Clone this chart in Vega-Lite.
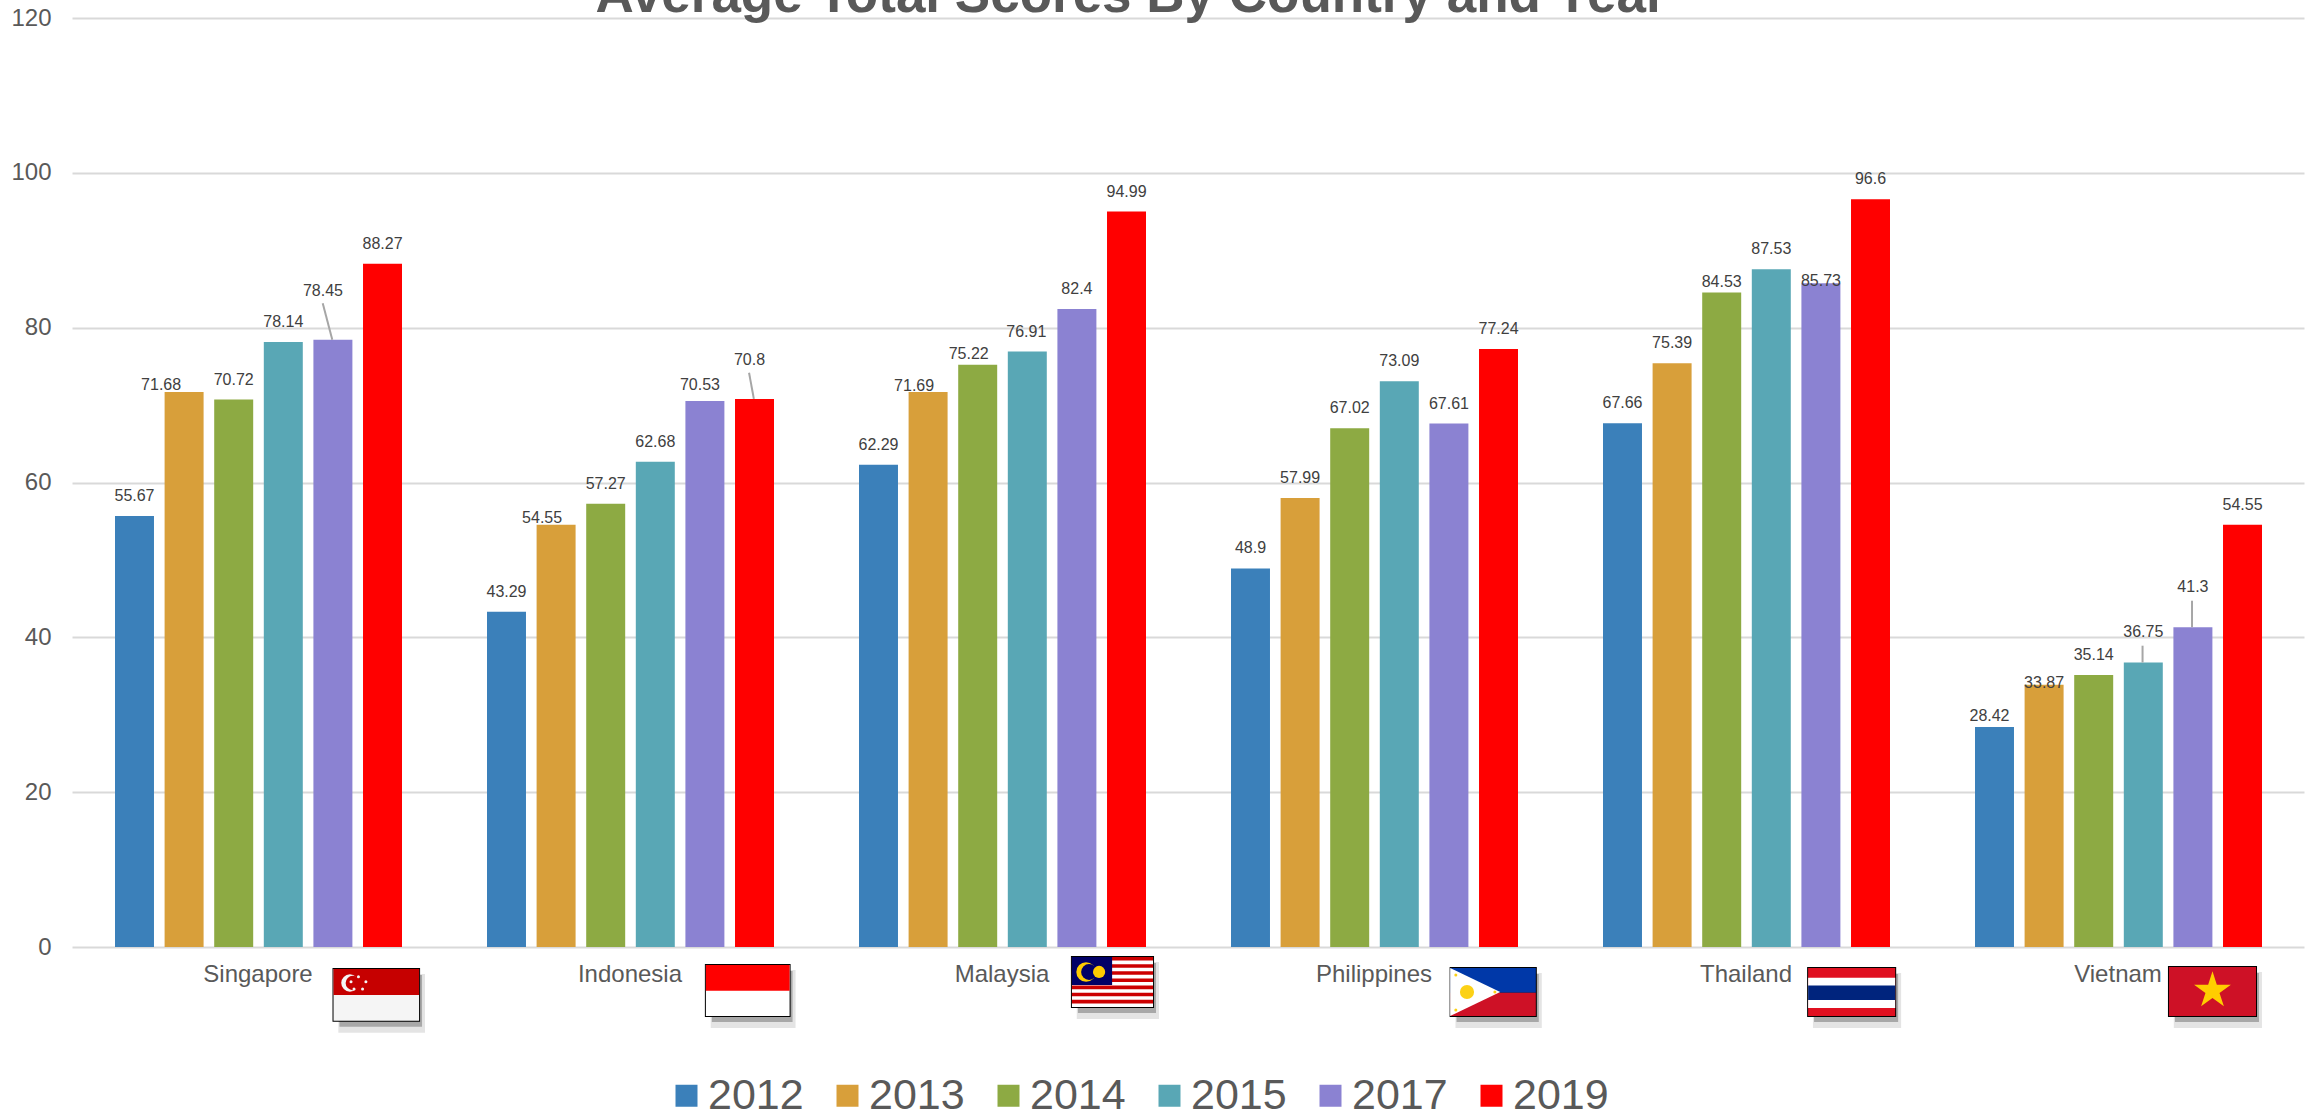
{"$schema":"https://vega.github.io/schema/vega-lite/v6.json","width":2232,"height":929,"autosize":"none","padding":{"left":72,"top":18,"right":9,"bottom":170},"background":"white",
"datasets":{
"titleText":[{"label":"Average Total Scores By Country and Year","x":2.847,"y":120.78}],
"scores":[
{"country":"Singapore","year":"2012","score":55.67},{"country":"Singapore","year":"2013","score":71.68},{"country":"Singapore","year":"2014","score":70.72},{"country":"Singapore","year":"2015","score":78.14},{"country":"Singapore","year":"2017","score":78.45},{"country":"Singapore","year":"2019","score":88.27},
{"country":"Indonesia","year":"2012","score":43.29},{"country":"Indonesia","year":"2013","score":54.55},{"country":"Indonesia","year":"2014","score":57.27},{"country":"Indonesia","year":"2015","score":62.68},{"country":"Indonesia","year":"2017","score":70.53},{"country":"Indonesia","year":"2019","score":70.8},
{"country":"Malaysia","year":"2012","score":62.29},{"country":"Malaysia","year":"2013","score":71.69},{"country":"Malaysia","year":"2014","score":75.22},{"country":"Malaysia","year":"2015","score":76.91},{"country":"Malaysia","year":"2017","score":82.4},{"country":"Malaysia","year":"2019","score":94.99},
{"country":"Philippines","year":"2012","score":48.9},{"country":"Philippines","year":"2013","score":57.99},{"country":"Philippines","year":"2014","score":67.02},{"country":"Philippines","year":"2015","score":73.09},{"country":"Philippines","year":"2017","score":67.61},{"country":"Philippines","year":"2019","score":77.24},
{"country":"Thailand","year":"2012","score":67.66},{"country":"Thailand","year":"2013","score":75.39},{"country":"Thailand","year":"2014","score":84.53},{"country":"Thailand","year":"2015","score":87.53},{"country":"Thailand","year":"2017","score":85.73},{"country":"Thailand","year":"2019","score":96.6},
{"country":"Vietnam","year":"2012","score":28.42},{"country":"Vietnam","year":"2013","score":33.87},{"country":"Vietnam","year":"2014","score":35.14},{"country":"Vietnam","year":"2015","score":36.75},{"country":"Vietnam","year":"2017","score":41.3},{"country":"Vietnam","year":"2019","score":54.55}],
"leaders":[{"x":0.674,"x2":0.6997,"y":83.14,"y2":78.45},{"x":1.82,"x2":1.833,"y":74.18,"y2":70.8},{"x":5.566,"x2":5.566,"y":38.92,"y2":36.75},{"x":5.699,"x2":5.699,"y":44.73,"y2":41.3}],
"flagRects":[
{"part":"shadowA","x":0.716,"x2":0.949,"y":-3.488,"y2":-11.07},{"part":"shadowB","x":0.719,"x2":0.941,"y":-3.617,"y2":-10.295},
{"part":"shadowA","x":1.717,"x2":1.945,"y":-2.971,"y2":-10.462},{"part":"shadowB","x":1.72,"x2":1.937,"y":-3.1,"y2":-9.687},
{"part":"shadowA","x":2.701,"x2":2.922,"y":-1.938,"y2":-9.3},{"part":"shadowB","x":2.704,"x2":2.914,"y":-2.067,"y2":-8.525},
{"part":"shadowA","x":3.719,"x2":3.951,"y":-3.358,"y2":-10.462},{"part":"shadowB","x":3.722,"x2":3.943,"y":-3.487,"y2":-9.687},
{"part":"shadowA","x":4.68,"x2":4.917,"y":-3.358,"y2":-10.462},{"part":"shadowB","x":4.683,"x2":4.909,"y":-3.487,"y2":-9.687},
{"part":"shadowA","x":5.65,"x2":5.887,"y":-3.229,"y2":-10.462},{"part":"shadowB","x":5.653,"x2":5.879,"y":-3.358,"y2":-9.687},
{"part":"frame","x":0.7003,"x2":0.9357,"y":-2.712,"y2":-9.65},{"part":"frame","x":1.7013,"x2":1.9317,"y":-2.195,"y2":-9.042},{"part":"frame","x":2.6853,"x2":2.9087,"y":-1.162,"y2":-7.88},{"part":"frame","x":3.7033,"x2":3.9377,"y":-2.582,"y2":-9.042},{"part":"frame","x":4.6643,"x2":4.9037,"y":-2.582,"y2":-9.042},{"part":"frame","x":5.6343,"x2":5.8737,"y":-2.453,"y2":-9.042},
{"part":"offWhite","x":0.703,"x2":0.933,"y":-2.842,"y2":-9.52},{"part":"sgRed","x":0.703,"x2":0.933,"y":-2.842,"y2":-6.2},
{"part":"white","x":1.704,"x2":1.929,"y":-2.325,"y2":-8.912},{"part":"idRed","x":1.704,"x2":1.929,"y":-2.325,"y2":-5.645},
{"part":"white","x":2.688,"x2":2.906,"y":-1.292,"y2":-7.75},
{"part":"myRed","x":2.688,"x2":2.906,"y":-1.292,"y2":-1.753},{"part":"myRed","x":2.688,"x2":2.906,"y":-2.215,"y2":-2.676},{"part":"myRed","x":2.688,"x2":2.906,"y":-3.137,"y2":-3.599},{"part":"myRed","x":2.688,"x2":2.906,"y":-4.06,"y2":-4.521},{"part":"myRed","x":2.688,"x2":2.906,"y":-4.983,"y2":-5.444},{"part":"myRed","x":2.688,"x2":2.906,"y":-5.905,"y2":-6.367},{"part":"myRed","x":2.688,"x2":2.906,"y":-6.828,"y2":-7.289},
{"part":"myNavy","x":2.688,"x2":2.796,"y":-1.292,"y2":-4.908},
{"part":"phBlue","x":3.706,"x2":3.935,"y":-2.712,"y2":-5.903},{"part":"phRed","x":3.706,"x2":3.935,"y":-5.903,"y2":-8.912},
{"part":"thRed","x":4.667,"x2":4.901,"y":-2.712,"y2":-8.912},{"part":"white","x":4.667,"x2":4.901,"y":-3.965,"y2":-7.879},{"part":"thBlue","x":4.667,"x2":4.901,"y":-4.973,"y2":-6.846},
{"part":"vnRed","x":5.637,"x2":5.871,"y":-2.583,"y2":-8.912}],
"flagDots":[
{"part":"sgMoon","x":0.747,"y":-4.65},{"part":"sgCut","x":0.755,"y":-4.65},
{"part":"sgStar","x":0.77,"y":-3.836},{"part":"sgStar","x":0.79,"y":-4.482},{"part":"sgStar","x":0.781,"y":-5.425},{"part":"sgStar","x":0.758,"y":-5.425},{"part":"sgStar","x":0.75,"y":-4.482},
{"part":"myMoon","x":2.726,"y":-3.229},{"part":"myCut","x":2.734,"y":-3.229},{"part":"mySun","x":2.761,"y":-3.229},
{"part":"phSun","x":3.75,"y":-5.813},{"part":"phStar","x":3.72,"y":-3.617},{"part":"phStar","x":3.72,"y":-8.137},{"part":"phStar","x":3.825,"y":-5.813},
{"part":"phTriangle","x":3.772,"y":-5.813},{"part":"vnStar","x":5.754,"y":-5.645}]
},
"layer":[
{"layer":[
{"data":{"name":"scores"},"mark":{"type":"bar"},
"encoding":{
"x":{"field":"country","type":"nominal","sort":null,"scale":{"domain":["Singapore","Indonesia","Malaysia","Philippines","Thailand","Vietnam"],"paddingInner":0,"paddingOuter":0},"title":null,"axis":{"domain":false,"ticks":false,"labelAngle":0,"labelFont":"Liberation Sans","labelFontSize":24,"labelColor":"#595959","labelPadding":15}},
"xOffset":{"field":"year","type":"nominal","scale":{"range":[43,330],"paddingInner":0.214,"paddingOuter":0}},
"y":{"field":"score","type":"quantitative","scale":{"domain":[0,120],"nice":false},"title":null,"axis":{"values":[0,20,40,60,80,100,120],"domain":false,"ticks":false,"grid":true,"gridColor":"#d9d9d9","gridWidth":2,"labelFont":"Liberation Sans","labelFontSize":24,"labelColor":"#595959","labelPadding":21}},
"color":{"field":"year","type":"nominal","scale":{"domain":["2012","2013","2014","2015","2017","2019"],"range":["#3B80BA","#D89F3A","#8DAA43","#59A7B5","#8B82D2","#FF0000"]},"legend":{"title":null,"orient":"none","legendX":593,"legendY":1056,"direction":"horizontal","columns":6,"symbolType":"square","symbolSize":484,"symbolStrokeWidth":0,"labelFont":"Liberation Sans","labelFontSize":43,"labelColor":"#595959","labelOffset":0,"columnPadding":22}}
}},
{"data":{"name":"scores"},"mark":{"type":"text","font":"Liberation Sans","fontSize":16,"color":"#404040","baseline":"middle","align":"center",
"dx":{"expr":"({'Singapore2013':-23,'Singapore2017':-10,'Indonesia2013':-14,'Indonesia2017':-5,'Indonesia2019':-5,'Malaysia2013':-14,'Malaysia2014':-9,'Malaysia2015':-1,'Vietnam2012':-5})[datum.country+datum.year]||0"},
"dy":{"expr":"({'Singapore2013':-7,'Singapore2017':-49,'Indonesia2013':-7,'Indonesia2017':-16,'Indonesia2019':-39,'Malaysia2013':-6,'Malaysia2014':-11,'Thailand2014':-11,'Thailand2017':-2,'Vietnam2012':-11,'Vietnam2013':-2,'Vietnam2015':-30,'Vietnam2017':-40})[datum.country+datum.year]||-20"}},
"encoding":{
"x":{"field":"country","type":"nominal","sort":null},
"xOffset":{"field":"year","type":"nominal"},
"y":{"field":"score","type":"quantitative"},
"text":{"field":"score","type":"quantitative","format":".4~f"}
}}
]},
{"encoding":{"x":{"field":"x","type":"quantitative","scale":{"domain":[0,6],"nice":false,"zero":false},"axis":null},"y":{"field":"y","type":"quantitative"}},
"layer":[
{"data":{"name":"leaders"},"mark":{"type":"rule","color":"#a6a6a6","strokeWidth":2},"encoding":{"x2":{"field":"x2"},"y2":{"field":"y2"}}},
{"data":{"name":"flagRects"},"mark":{"type":"rect"},
"encoding":{"x2":{"field":"x2"},"y2":{"field":"y2"},
"fill":{"field":"part","type":"nominal","legend":null,"scale":{"domain":["shadowA","shadowB","frame","offWhite","white","sgRed","idRed","myRed","myNavy","phBlue","phRed","thRed","thBlue","vnRed"],"range":["#e4e4e4","#a8a8a8","#000000","#f5f5f5","#ffffff","#c60000","#ff0000","#cc0001","#010066","#0038a8","#ce1126","#e01020","#00247d","#ce1126"]}}}},
{"data":{"name":"flagDots"},"transform":[{"filter":"datum.part=='phTriangle'"}],"mark":{"type":"point","filled":true,"opacity":1,"strokeWidth":0,"fill":"#ffffff","shape":"M-1,-0.96L1,0L-1,0.96Z","size":2500},"encoding":{}},
{"data":{"name":"flagDots"},"transform":[{"filter":"datum.part=='sgMoon'"}],"mark":{"type":"point","filled":true,"opacity":1,"strokeWidth":0,"fill":"#f5f5f5","shape":"circle","size":300},"encoding":{}},
{"data":{"name":"flagDots"},"transform":[{"filter":"datum.part=='sgCut'"}],"mark":{"type":"point","filled":true,"opacity":1,"strokeWidth":0,"fill":"#c60000","shape":"circle","size":210},"encoding":{}},
{"data":{"name":"flagDots"},"transform":[{"filter":"datum.part=='sgStar'"}],"mark":{"type":"point","filled":true,"opacity":1,"strokeWidth":0,"fill":"#f5f5f5","shape":"circle","size":9},"encoding":{}},
{"data":{"name":"flagDots"},"transform":[{"filter":"datum.part=='myMoon'"}],"mark":{"type":"point","filled":true,"opacity":1,"strokeWidth":0,"fill":"#ffcc00","shape":"circle","size":380},"encoding":{}},
{"data":{"name":"flagDots"},"transform":[{"filter":"datum.part=='myCut'"}],"mark":{"type":"point","filled":true,"opacity":1,"strokeWidth":0,"fill":"#010066","shape":"circle","size":250},"encoding":{}},
{"data":{"name":"flagDots"},"transform":[{"filter":"datum.part=='mySun'"}],"mark":{"type":"point","filled":true,"opacity":1,"strokeWidth":0,"fill":"#ffcc00","shape":"circle","size":150},"encoding":{}},
{"data":{"name":"flagDots"},"transform":[{"filter":"datum.part=='phSun'"}],"mark":{"type":"point","filled":true,"opacity":1,"strokeWidth":0,"fill":"#fcd116","shape":"circle","size":200},"encoding":{}},
{"data":{"name":"flagDots"},"transform":[{"filter":"datum.part=='phStar'"}],"mark":{"type":"point","filled":true,"opacity":1,"strokeWidth":0,"fill":"#fcd116","shape":"circle","size":9},"encoding":{}},
{"data":{"name":"flagDots"},"transform":[{"filter":"datum.part=='vnStar'"}],"mark":{"type":"point","filled":true,"opacity":1,"strokeWidth":0,"fill":"#ffcd00","shape":"M0,-1L0.2245,-0.309L0.951,-0.309L0.363,0.118L0.588,0.809L0,0.382L-0.588,0.809L-0.363,0.118L-0.951,-0.309L-0.2245,-0.309Z","size":1500},"encoding":{}},
{"data":{"name":"titleText"},"mark":{"type":"text","font":"Liberation Sans","fontSize":53,"fontWeight":"bold","color":"#595959","align":"center","baseline":"alphabetic"},"encoding":{"text":{"field":"label","type":"nominal"}}}
]}
],
"resolve":{"scale":{"x":"independent"}},
"config":{"view":{"stroke":null}}
}
